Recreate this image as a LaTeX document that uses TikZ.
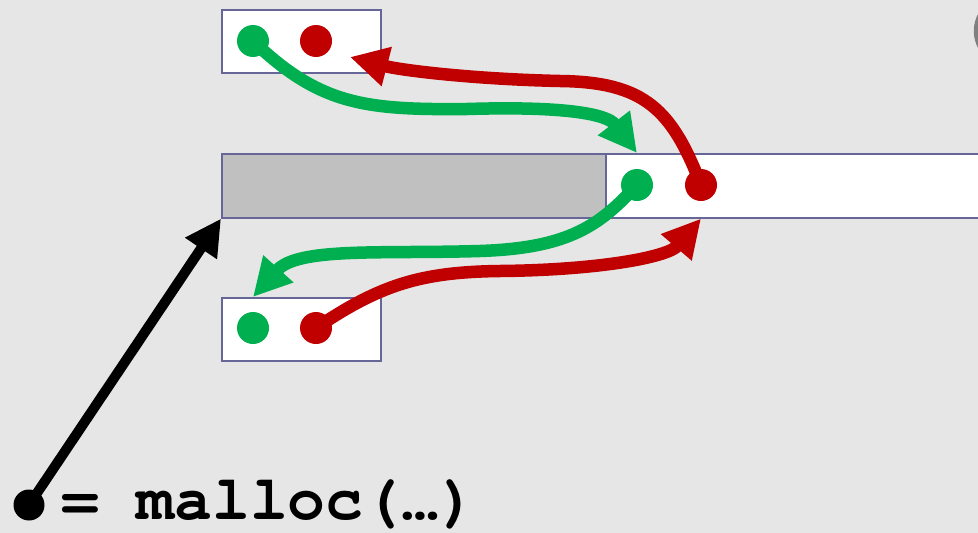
\documentclass[tikz,border=0pt]{standalone}
\usepackage{fontspec}
\setmonofont{texgyrecursor}[Extension=.otf, UprightFont=*-regular, BoldFont=*-bold]
\usetikzlibrary{arrows.meta}
\definecolor{bg}{HTML}{E6E6E6}
\definecolor{boxc}{HTML}{666699}
\definecolor{usedc}{HTML}{C0C0C0}
\definecolor{grn}{HTML}{00B050}
\definecolor{rd}{HTML}{C00000}
\definecolor{paren}{HTML}{808080}
\begin{document}
\begin{tikzpicture}[x=1pt,y=-1pt,
  membox/.style={draw=boxc, line width=1.6pt, fill=white, inner sep=0pt, anchor=north west},
  usedbox/.style={membox, fill=usedc},
  dotn/.style={circle, inner sep=0pt, minimum size=32pt},
  gdot/.style={dotn, fill=grn},
  rdot/.style={dotn, fill=rd},
  garrow/.style={draw=grn, line width=12.5pt, -{Triangle[length=38pt,width=38pt]}},
  rarrow/.style={draw=rd, line width=12.5pt, -{Triangle[length=38pt,width=38pt]}},
  barrow/.style={draw=black, line width=10pt, -{Triangle[length=36pt,width=36pt]}},
  code/.style={font=\ttfamily\bfseries\fontsize{63}{63}\selectfont, inner sep=0pt, anchor=base west}
]
\useasboundingbox (0,0) rectangle (978,533);
\fill[bg] (0,0) rectangle (978,533);
% partial parenthesis at top right
\fill[paren] (979,12) .. controls (972,24) and (972,38) .. (979,50) -- cycle;

% memory blocks
\node[membox, minimum width=159pt, minimum height=63pt] (top) at (221,9) {};
\node[usedbox, minimum width=384pt, minimum height=64pt] (used) at (221,153) {};
\node[membox, minimum width=390pt, minimum height=64pt] (free) at (605,153) {};
\node[membox, minimum width=159pt, minimum height=63pt] (bot) at (221,297) {};

% dot positions
\coordinate (tg) at (253,41);
\coordinate (tr) at (316,41);
\coordinate (fg) at (637,185);
\coordinate (fr) at (701,185);
\coordinate (bg) at (253,328);
\coordinate (br) at (316,328);
\coordinate (r1tip) at (350,57);

% connectors
\draw[garrow] (tg) .. controls (320,105) and (365,110) .. (467,109)
  .. controls (565,106) and (607,114) .. (fg |- used.north);
\draw[rarrow] (fr) .. controls (672,110) and (645,82) .. (560,81)
  .. controls (470,79) and (400,70) .. (r1tip);
\draw[garrow] (fg) .. controls (600,225) and (570,248) .. (480,251)
  .. controls (380,254) and (298,247) .. (bg |- bot.north);
\draw[rarrow] (br) .. controls (380,285) and (420,272) .. (500,271)
  .. controls (600,270) and (668,257) .. (fr |- used.south);

% dots
\node[gdot] (tgd) at (tg) {};
\node[rdot] (trd) at (tr) {};
\node[gdot] (fgd) at (fg) {};
\node[rdot] (frd) at (fr) {};
\node[gdot] (bgd) at (bg) {};
\node[rdot] (brd) at (br) {};

% pointer
\node[dotn, fill=black, minimum size=31pt] (ptr) at (29,505) {};
\draw[barrow] (ptr.center) -- (used.south west);
\node[code] (call) at (61,519) {= malloc(…)};
\end{tikzpicture}
\end{document}
